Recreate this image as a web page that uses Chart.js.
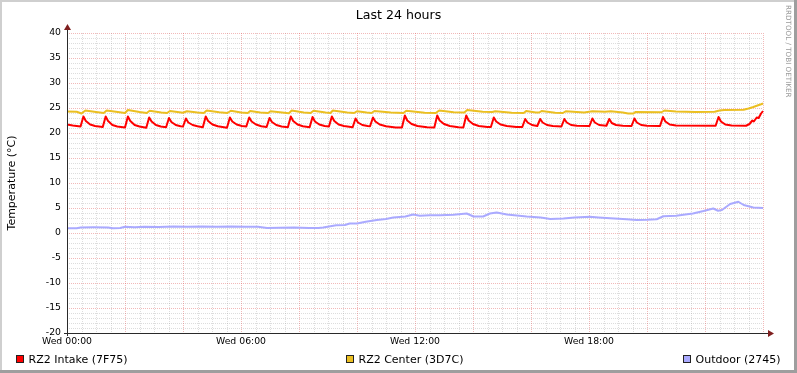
<!DOCTYPE html>
<html><head><meta charset="utf-8">
<script src="https://cdn.jsdelivr.net/npm/chart.js@4"></script>
<style>html,body{margin:0;padding:0;background:#fff;}canvas{display:block;}</style>
</head><body>
<canvas id="c" width="797" height="373" style="width:797px;height:373px"></canvas>
<script>
const chartTitle = 'Last 24 hours';
const yAxisTitle = 'Temperature (°C)';
const watermarkText = 'RRDTOOL / TOBI OETIKER';
const xTickValues = [0, 360, 720, 1080];
const xTickLabels = ['Wed 00:00', 'Wed 06:00', 'Wed 12:00', 'Wed 18:00'];
const yTickValues = [-20, -15, -10, -5, 0, 5, 10, 15, 20, 25, 30, 35, 40];
const seriesNames = ['RZ2 Intake (7F75)', 'RZ2 Center (3D7C)', 'Outdoor (2745)'];
const seriesColors = ['#FF0000', '#EBBF21', '#AAAAFF'];

// minutes since Wed 00:00
const intakeTimes = [
  0,12,28,34,39,48,58,74,80,85,
  94,104,120,126,131,140,150,164,170,175,
  184,194,205,211,216,225,235,240,246,251,
  260,270,281,287,292,301,312,331,337,342,
  351,362,371,377,382,391,402,413,419,424,
  433,444,457,463,468,477,488,502,508,513,
  522,533,542,548,553,562,573,591,597,602,
  611,622,627,633,638,647,660,680,693,699,
  704,713,725,745,760,766,771,780,792,810,
  820,826,831,840,852,870,877,883,888,897,
  910,930,942,948,953,962,973,979,984,993,
  1005,1023,1029,1034,1043,1055,1081,1087,1092,1101,
  1116,1122,1127,1136,1150,1168,1174,1179,1188,1200,
  1227,1233,1238,1247,1260,1342,1348,1353,1362,1375,
  1405,1412,1418,1421,1427,1431,1436,1440];
const intakeValues = [
  21.7,21.5,21.3,23.3,22.4,21.7,21.4,21.2,23.3,22.4,
  21.6,21.3,21.1,23.3,22.4,21.6,21.3,21.05,23.1,22.3,
  21.6,21.3,21.15,23.0,22.2,21.6,21.35,21.3,22.9,22.1,
  21.6,21.35,21.15,23.3,22.4,21.7,21.35,21.05,23.1,22.3,
  21.7,21.4,21.3,23.1,22.3,21.7,21.35,21.2,23.0,22.2,
  21.6,21.3,21.15,23.3,22.4,21.7,21.35,21.15,23.2,22.3,
  21.7,21.4,21.3,23.3,22.4,21.7,21.4,21.15,22.9,22.1,
  21.6,21.4,21.35,23.1,22.3,21.7,21.35,21.1,21.1,23.5,
  22.5,21.8,21.4,21.15,21.1,23.5,22.5,21.8,21.4,21.15,
  21.1,23.5,22.5,21.8,21.4,21.2,21.2,23.1,22.3,21.7,
  21.4,21.2,21.2,22.8,22.1,21.6,21.4,22.8,22.1,21.6,
  21.4,21.3,22.8,22.1,21.6,21.45,21.4,22.9,22.1,21.6,
  21.45,22.8,22.0,21.6,21.45,21.4,22.9,22.1,21.6,21.45,
  21.4,23.2,22.3,21.7,21.5,21.45,23.2,22.3,21.7,21.5,
  21.45,21.8,22.5,22.3,23.1,23.0,23.9,24.4];

const centerTimes = [
  0,20,30,38,60,76,82,105,120,126,
  150,165,171,195,207,213,240,248,270,283,
  289,315,332,339,360,374,379,400,416,421,
  445,459,465,490,504,510,535,545,550,580,
  594,600,620,630,636,670,696,702,740,763,
  770,800,822,828,860,880,886,920,945,950,
  970,977,982,1010,1026,1032,1070,1087,1113,1125,
  1150,1161,1172,1176,1230,1236,1260,1300,1340,1350,
  1360,1400,1410,1420,1430,1436,1440];
const centerValues = [
  24.3,24.25,23.9,24.5,24.2,24.0,24.5,24.2,24.0,24.6,
  24.2,24.0,24.45,24.1,24.0,24.4,24.05,24.35,24.1,24.0,
  24.5,24.15,24.0,24.45,24.1,24.0,24.4,24.1,24.0,24.35,
  24.1,23.95,24.5,24.1,24.0,24.45,24.1,24.0,24.5,24.1,
  24.0,24.35,24.1,24.0,24.4,24.1,24.0,24.45,24.05,24.0,
  24.5,24.15,24.1,24.6,24.25,24.2,24.35,24.05,24.0,24.4,
  24.1,24.1,24.4,24.05,24.0,24.35,24.1,24.35,24.25,24.35,
  24.1,23.9,23.9,24.2,24.15,24.5,24.3,24.2,24.25,24.5,
  24.6,24.65,24.9,25.2,25.55,25.75,25.9];

const outdoorTimes = [
  0,20,28,55,85,95,110,120,140,160,
  190,220,250,280,310,340,370,395,414,440,
  470,500,520,530,557,575,585,600,618,641,
  660,675,700,716,730,750,772,800,827,841,
  861,875,889,910,951,980,1000,1027,1050,1082,
  1100,1124,1150,1179,1200,1220,1234,1260,1295,1317,
  1337,1347,1355,1372,1389,1400,1420,1440];
const outdoorValues = [
  0.95,0.95,1.1,1.13,1.1,0.95,1.0,1.25,1.15,1.25,
  1.2,1.3,1.25,1.3,1.25,1.3,1.25,1.25,1.0,1.05,
  1.1,1.0,1.0,1.1,1.55,1.6,1.9,1.9,2.25,2.6,
  2.8,3.1,3.3,3.7,3.45,3.55,3.55,3.65,3.9,3.3,
  3.3,3.9,4.1,3.7,3.3,3.1,2.8,2.9,3.1,3.25,
  3.1,2.95,2.8,2.6,2.65,2.75,3.35,3.45,3.9,4.4,
  4.9,4.45,4.6,5.8,6.25,5.6,5.1,5.0];

function toXY(ts, vs) { return ts.map((t, i) => ({ x: t, y: vs[i] })); }

const FONT = '"DejaVu Sans", "Liberation Sans", sans-serif';
const MINOR_GRID = 'rgba(143,143,143,0.3)';
const MAJOR_GRID = 'rgba(222,79,79,0.4)';
const AXIS_COLOR = '#2a2a2a';
const ARROW_COLOR = '#7F1F1F';

const rrdPlugin = {
  id: 'rrd',
  beforeDatasetsDraw(chart) {
    const { ctx, chartArea: a, scales: { x, y } } = chart;
    ctx.save();
    ctx.lineWidth = 1;
    ctx.setLineDash([1, 1]);
    const vline = (m) => { const px = Math.round(x.getPixelForValue(m)) + 0.5; ctx.beginPath(); ctx.moveTo(px, a.top); ctx.lineTo(px, a.bottom); ctx.stroke(); };
    const hline = (v) => { const py = Math.round(y.getPixelForValue(v)) + 0.5; ctx.beginPath(); ctx.moveTo(a.left, py); ctx.lineTo(a.right, py); ctx.stroke(); };
    ctx.strokeStyle = MINOR_GRID;
    for (let m = 30; m <= 1440; m += 30) if (m % 120 !== 0) vline(m);
    for (let v = -20; v <= 40; v += 1) if (v % 5 !== 0) hline(v);
    ctx.strokeStyle = MAJOR_GRID;
    for (let m = 120; m <= 1440; m += 120) vline(m);
    for (let v = -15; v <= 40; v += 5) hline(v);
    ctx.restore();
  },
  afterDatasetsDraw(chart) {
    const { ctx, chartArea: a } = chart;
    ctx.save();
    ctx.strokeStyle = AXIS_COLOR;
    ctx.lineWidth = 1;
    const ay = a.bottom + 0.5, ax = a.left + 0.5;
    ctx.beginPath(); ctx.moveTo(a.left - 3, ay); ctx.lineTo(a.right + 5, ay); ctx.stroke();
    ctx.beginPath(); ctx.moveTo(ax, a.bottom + 3); ctx.lineTo(ax, a.top - 3); ctx.stroke();
    ctx.fillStyle = ARROW_COLOR;
    ctx.beginPath(); ctx.moveTo(a.right + 5, ay - 3.5); ctx.lineTo(a.right + 11, ay); ctx.lineTo(a.right + 5, ay + 3.5); ctx.closePath(); ctx.fill();
    ctx.beginPath(); ctx.moveTo(ax - 3.5, a.top - 3); ctx.lineTo(ax, a.top - 9); ctx.lineTo(ax + 3.5, a.top - 3); ctx.closePath(); ctx.fill();
    ctx.restore();
  },
  afterDraw(chart) {
    const { ctx } = chart;
    const W = chart.width, H = chart.height;
    ctx.save();
    // title
    ctx.fillStyle = '#000';
    ctx.font = '12.6px ' + FONT;
    ctx.textAlign = 'center';
    ctx.textBaseline = 'alphabetic';
    ctx.fillText(chartTitle, 398.5, 18.5);
    // y title
    ctx.save();
    ctx.font = '11px ' + FONT;
    ctx.translate(14.5, 183);
    ctx.rotate(-Math.PI / 2);
    ctx.fillText(yAxisTitle, 0, 0);
    ctx.restore();
    // legend
    const legendBoxX = [16, 346, 683];
    ctx.font = '11px ' + FONT;
    ctx.textAlign = 'left';
    seriesNames.forEach((name, i) => {
      const bx = legendBoxX[i];
      ctx.fillStyle = seriesColors[i];
      ctx.fillRect(bx, 355, 8, 8);
      ctx.strokeStyle = '#222';
      ctx.lineWidth = 1;
      ctx.strokeRect(bx + 0.5, 355.5, 7, 7);
      ctx.fillStyle = '#000';
      ctx.fillText(name, bx + 12.5, 362.5);
    });
    // watermark
    ctx.save();
    ctx.fillStyle = '#9A9A9A';
    ctx.font = '7.2px ' + FONT;
    ctx.translate(788, 5);
    ctx.rotate(Math.PI / 2);
    ctx.textAlign = 'left';
    ctx.textBaseline = 'middle';
    ctx.fillText(watermarkText, 0, 0);
    ctx.restore();
    // border
    ctx.fillStyle = '#CFCFCF';
    ctx.fillRect(0, 0, W, 2);
    ctx.fillRect(0, 0, 2, H);
    ctx.fillStyle = '#9E9E9E';
    ctx.fillRect(0, H - 3, W, 3);
    ctx.fillRect(W - 3, 0, 3, H);
    ctx.restore();
  }
};

const lineDefaults = { pointRadius: 0, borderWidth: 2, tension: 0, fill: false, borderJoinStyle: 'round', clip: 4 };

new Chart(document.getElementById('c'), {
  type: 'line',
  data: {
    datasets: [
      Object.assign({ label: seriesNames[2], data: toXY(outdoorTimes, outdoorValues), borderColor: seriesColors[2] }, lineDefaults),
      Object.assign({ label: seriesNames[1], data: toXY(centerTimes, centerValues), borderColor: seriesColors[1] }, lineDefaults),
      Object.assign({ label: seriesNames[0], data: toXY(intakeTimes, intakeValues), borderColor: seriesColors[0] }, lineDefaults)
    ]
  },
  options: {
    responsive: false,
    animation: false,
    devicePixelRatio: 1,
    layout: { padding: { left: 0, top: 33, right: 34, bottom: 0 } },
    plugins: { legend: { display: false }, title: { display: false }, tooltip: { enabled: false } },
    scales: {
      x: {
        type: 'linear', min: 0, max: 1440,
        grid: { display: false, drawTicks: false }, border: { display: false },
        afterBuildTicks: s => { s.ticks = xTickValues.map(v => ({ value: v })); },
        afterFit: s => { s.height = 40; },
        ticks: {
          autoSkip: false, maxRotation: 0, minRotation: 0, padding: 3,
          font: { family: FONT, size: 9.3 }, color: '#000',
          callback: (v) => { const i = xTickValues.indexOf(v); return i >= 0 ? xTickLabels[i] : ''; }
        }
      },
      y: {
        type: 'linear', min: -20, max: 40,
        grid: { display: false, drawTicks: false }, border: { display: false },
        afterBuildTicks: s => { s.ticks = yTickValues.map(v => ({ value: v })); },
        afterFit: s => { s.width = 67; },
        ticks: {
          autoSkip: false, padding: 6,
          font: { family: FONT, size: 9.3 }, color: '#000',
          callback: (v) => String(v)
        }
      }
    }
  },
  plugins: [rrdPlugin]
});
</script>
</body></html>
